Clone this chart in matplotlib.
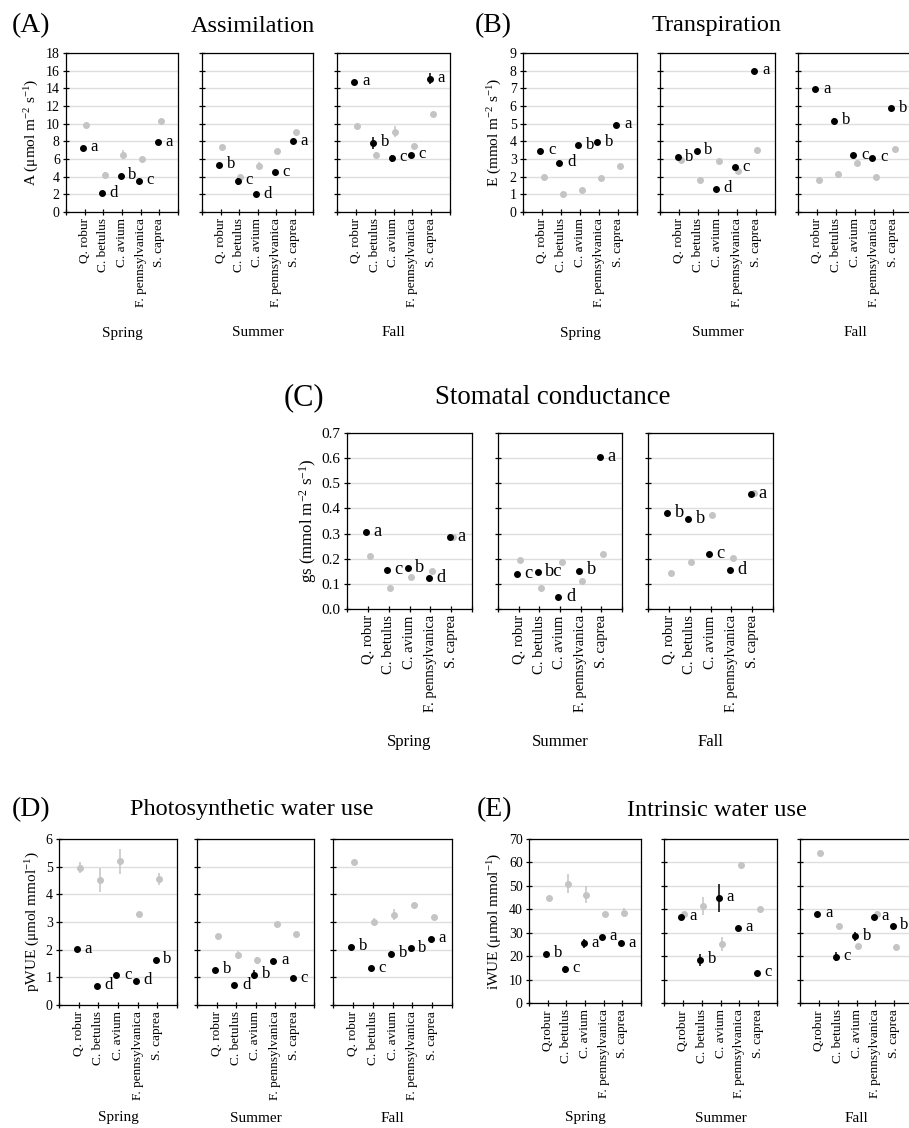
##set up
import numpy as np
import matplotlib.pyplot as plt

plt.rcParams['font.family'] = ['Liberation Serif', 'DejaVu Serif']
plt.rcParams['mathtext.fontset'] = 'custom'
plt.rcParams['mathtext.rm'] = 'Liberation Serif'
plt.rcParams['mathtext.it'] = 'Liberation Serif:italic'

species = ['Q. robur', 'C. betulus', 'C. avium', 'F. pennsylvanica', 'S. caprea']
species_e = ['Q.robur', 'C. betulus', 'C. avium', 'F. pennsylvanica', 'S. caprea']
seasons = ['Spring', 'Summer', 'Fall']

##(A) Assimilation  - rows are Spring, Summer, Fall
A_black = [[7.3, 2.1, 4.1, 3.5, 7.9], [5.3, 3.5, 2.0, 4.5, 8.0], [14.7, 7.8, 6.1, 6.5, 15.1]]
A_black_err = [[0, 0, 0.2, 0, 0], [0, 0.4, 0, 0, 0], [0, 0.7, 0.4, 0, 0.6]]
A_gray = [[9.8, 4.2, 6.5, 6.0, 10.3], [7.4, 4.0, 5.2, 6.9, 9.1], [9.7, 6.5, 9.1, 7.5, 11.1]]
A_gray_err = [[0, 0.3, 0.5, 0, 0], [0, 0.2, 0.5, 0, 0], [0, 0.3, 0.6, 0, 0]]
A_letters = [['a', 'd', 'b', 'c', 'a'], ['b', 'c', 'd', 'c', 'a'], ['a', 'b', 'c', 'c', 'a']]

##(B) Transpiration
B_black = [[3.46, 2.8, 3.78, 3.94, 4.92], [3.09, 3.48, 1.3, 2.52, 7.98], [6.95, 5.16, 3.2, 3.07, 5.86]]
B_black_err = [[0, 0, 0, 0, 0], [0, 0, 0, 0, 0], [0, 0.15, 0, 0, 0]]
B_gray = [[1.96, 1.0, 1.24, 1.9, 2.62], [2.94, 1.79, 2.9, 2.32, 3.5], [1.81, 2.13, 2.75, 2.0, 3.58]]
B_gray_err = [[0, 0, 0, 0, 0], [0, 0, 0, 0, 0], [0, 0, 0, 0, 0]]
B_letters = [['c', 'd', 'b', 'b', 'a'], ['b', 'b', 'd', 'c', 'a'], ['a', 'b', 'c', 'c', 'b']]

##(C) Stomatal conductance
C_black = [[0.306, 0.156, 0.164, 0.124, 0.287], [0.14, 0.148, 0.046, 0.153, 0.605], [0.382, 0.358, 0.219, 0.155, 0.457]]
C_black_err = [[0, 0, 0, 0, 0], [0, 0, 0, 0, 0], [0, 0, 0, 0, 0]]
C_gray = [[0.212, 0.082, 0.127, 0.153, 0.287], [0.193, 0.082, 0.186, 0.112, 0.217], [0.145, 0.187, 0.374, 0.203, 0.461]]
C_gray_err = [[0, 0, 0, 0, 0], [0, 0, 0, 0, 0], [0, 0, 0, 0, 0]]
C_letters = [['a', 'c', 'b', 'd', 'a'], ['c', 'bc', 'd', 'b', 'a'], ['b', 'b', 'c', 'd', 'a']]

##(D) Photosynthetic water use
D_black = [[2.01, 0.68, 1.07, 0.88, 1.62], [1.27, 0.71, 1.1, 1.6, 0.96], [2.1, 1.33, 1.86, 2.05, 2.39]]
D_black_err = [[0, 0, 0, 0, 0], [0, 0, 0.15, 0, 0], [0, 0.08, 0.08, 0, 0.08]]
D_gray = [[4.96, 4.52, 5.2, 3.29, 4.55], [2.51, 1.81, 1.62, 2.92, 2.56], [5.17, 2.99, 3.26, 3.63, 3.17]]
D_gray_err = [[0.2, 0.42, 0.45, 0.08, 0.22], [0, 0.15, 0.13, 0.07, 0], [0.08, 0.15, 0.2, 0, 0]]
D_letters = [['a', 'd', 'c', 'd', 'b'], ['b', 'd', 'b', 'a', 'c'], ['b', 'c', 'b', 'b', 'a']]

##(E) Intrinsic water use
E_black = [[21.1, 14.5, 25.5, 28.1, 25.5], [36.7, 18.4, 44.8, 32.1, 13.0], [38.1, 19.8, 28.4, 36.7, 32.9]]
E_black_err = [[0, 1.5, 2, 0, 0], [1, 2.5, 6, 0, 0], [0, 1.8, 2, 0, 0]]
E_gray = [[44.8, 51.0, 46.3, 38.0, 38.5], [38.2, 41.4, 25.0, 58.7, 40.0], [64.1, 32.8, 24.2, 37.8, 23.9]]
E_gray_err = [[0, 4, 3.5, 0, 2], [0, 3.8, 3, 1, 0], [0, 1.5, 0, 1.5, 0]]
E_letters = [['b', 'c', 'a', 'a', 'a'], ['a', 'b', 'a', 'a', 'c'], ['a', 'c', 'b', 'a', 'b']]

##figure in pixel units
W, H = 909, 1128
fig = plt.figure(figsize=(W / 100, H / 100), dpi=100)
GRAY = '#c4c4c4'


def px_axes(x0, x1, y0, y1):
    return fig.add_axes([x0 / W, 1 - y1 / H, (x1 - x0) / W, (y1 - y0) / H])


def draw_panel(cols, top, bottom, black, black_err, gray, gray_err, letters,
               yticks, ylabel, ylab_x, names, season_y, tag, tag_x, title, title_x, title_y,
               fmt='%g', scale=1.0):
    x = np.arange(1, 6)
    for i, (x0, x1) in enumerate(cols):
        ax = px_axes(x0, x1, top, bottom)
        ax.errorbar(x + 0.08, gray[i], yerr=gray_err[i], fmt='o', color=GRAY, ms=4,
                    elinewidth=1.1, capsize=0, zorder=3)
        ax.errorbar(x - 0.08, black[i], yerr=black_err[i], fmt='o', color='k', ms=4,
                    elinewidth=1.1, capsize=0, zorder=4)
        for xi, yi, l in zip(x - 0.08, black[i], letters[i]):
            ax.annotate(l, (xi, yi), xytext=(5.5, 0.5), textcoords='offset points',
                        ha='left', va='center', fontsize=12 * scale)
        ax.set_xlim(0, 6)
        ax.set_ylim(yticks[0], yticks[-1])
        ax.set_xticks(range(7))
        ax.set_xticklabels([''] + names + [''], rotation=90, fontsize=9.5 * scale)
        ax.set_yticks(yticks)
        if i == 0:
            ax.set_yticklabels([fmt % v for v in yticks], fontsize=10 * scale)
        else:
            ax.set_yticklabels([])
        ax.tick_params(direction='inout', length=5, width=0.9, pad=2)
        ax.yaxis.grid(True, color='#dedede', lw=1)
        ax.set_axisbelow(True)
        for s in ax.spines.values():
            s.set_linewidth(0.9)
        fig.text((x0 + x1) / 2 / W, 1 - season_y / H, seasons[i], ha='center', va='center',
                 fontsize=11 * scale)
    fig.text(ylab_x / W, 1 - (top + bottom) / 2 / H, ylabel, rotation=90, ha='center',
             va='center', fontsize=11 * scale)
    fig.text(tag_x / W, 1 - title_y / H, tag, ha='left', va='center', fontsize=20 * scale)
    fig.text(title_x / W, 1 - title_y / H, title, ha='center', va='center', fontsize=17.5 * scale)


draw_panel([(66, 178), (202, 313), (337, 450)], 53, 212, A_black, A_black_err, A_gray, A_gray_err,
           A_letters, np.arange(0, 19, 2), r'A ($\mathrm{\mu}$mol m$^{-2}$ s$^{-1}$)', 32, species,
           333, '(A)', 12, 'Assimilation', 253, 26)

draw_panel([(523, 637), (660, 775), (798, 912)], 53, 212, B_black, B_black_err, B_gray, B_gray_err,
           B_letters, np.arange(0, 10, 1), r'E (mmol m$^{-2}$ s$^{-1}$)', 495, species,
           333, '(B)', 475, 'Transpiration', 717, 26)

draw_panel([(347, 472), (498, 622), (648, 773)], 433, 609, C_black, C_black_err, C_gray, C_gray_err,
           C_letters, np.round(np.arange(0, 0.71, 0.1), 1), r'gs (mmol m$^{-2}$ s$^{-1}$)', 308, species,
           742, '(C)', 284, 'Stomatal conductance', 553, 398, fmt='%.1f', scale=1.1)

draw_panel([(59, 177), (197, 314), (333, 452)], 839, 1005, D_black, D_black_err, D_gray, D_gray_err,
           D_letters, np.arange(0, 7, 1), r'pWUE ($\mathrm{\mu}$mol mmol$^{-1}$)', 33, species,
           1118, '(D)', 12, 'Photosynthetic water use', 252, 810)

draw_panel([(529, 641), (664, 777), (800, 913)], 839, 1003, E_black, E_black_err, E_gray, E_gray_err,
           E_letters, np.arange(0, 71, 10), r'iWUE ($\mathrm{\mu}$mol mmol$^{-1}$)', 495, species_e,
           1118, '(E)', 477, 'Intrinsic water use', 717, 810)

##save
fig.savefig('out.png', dpi=100)
